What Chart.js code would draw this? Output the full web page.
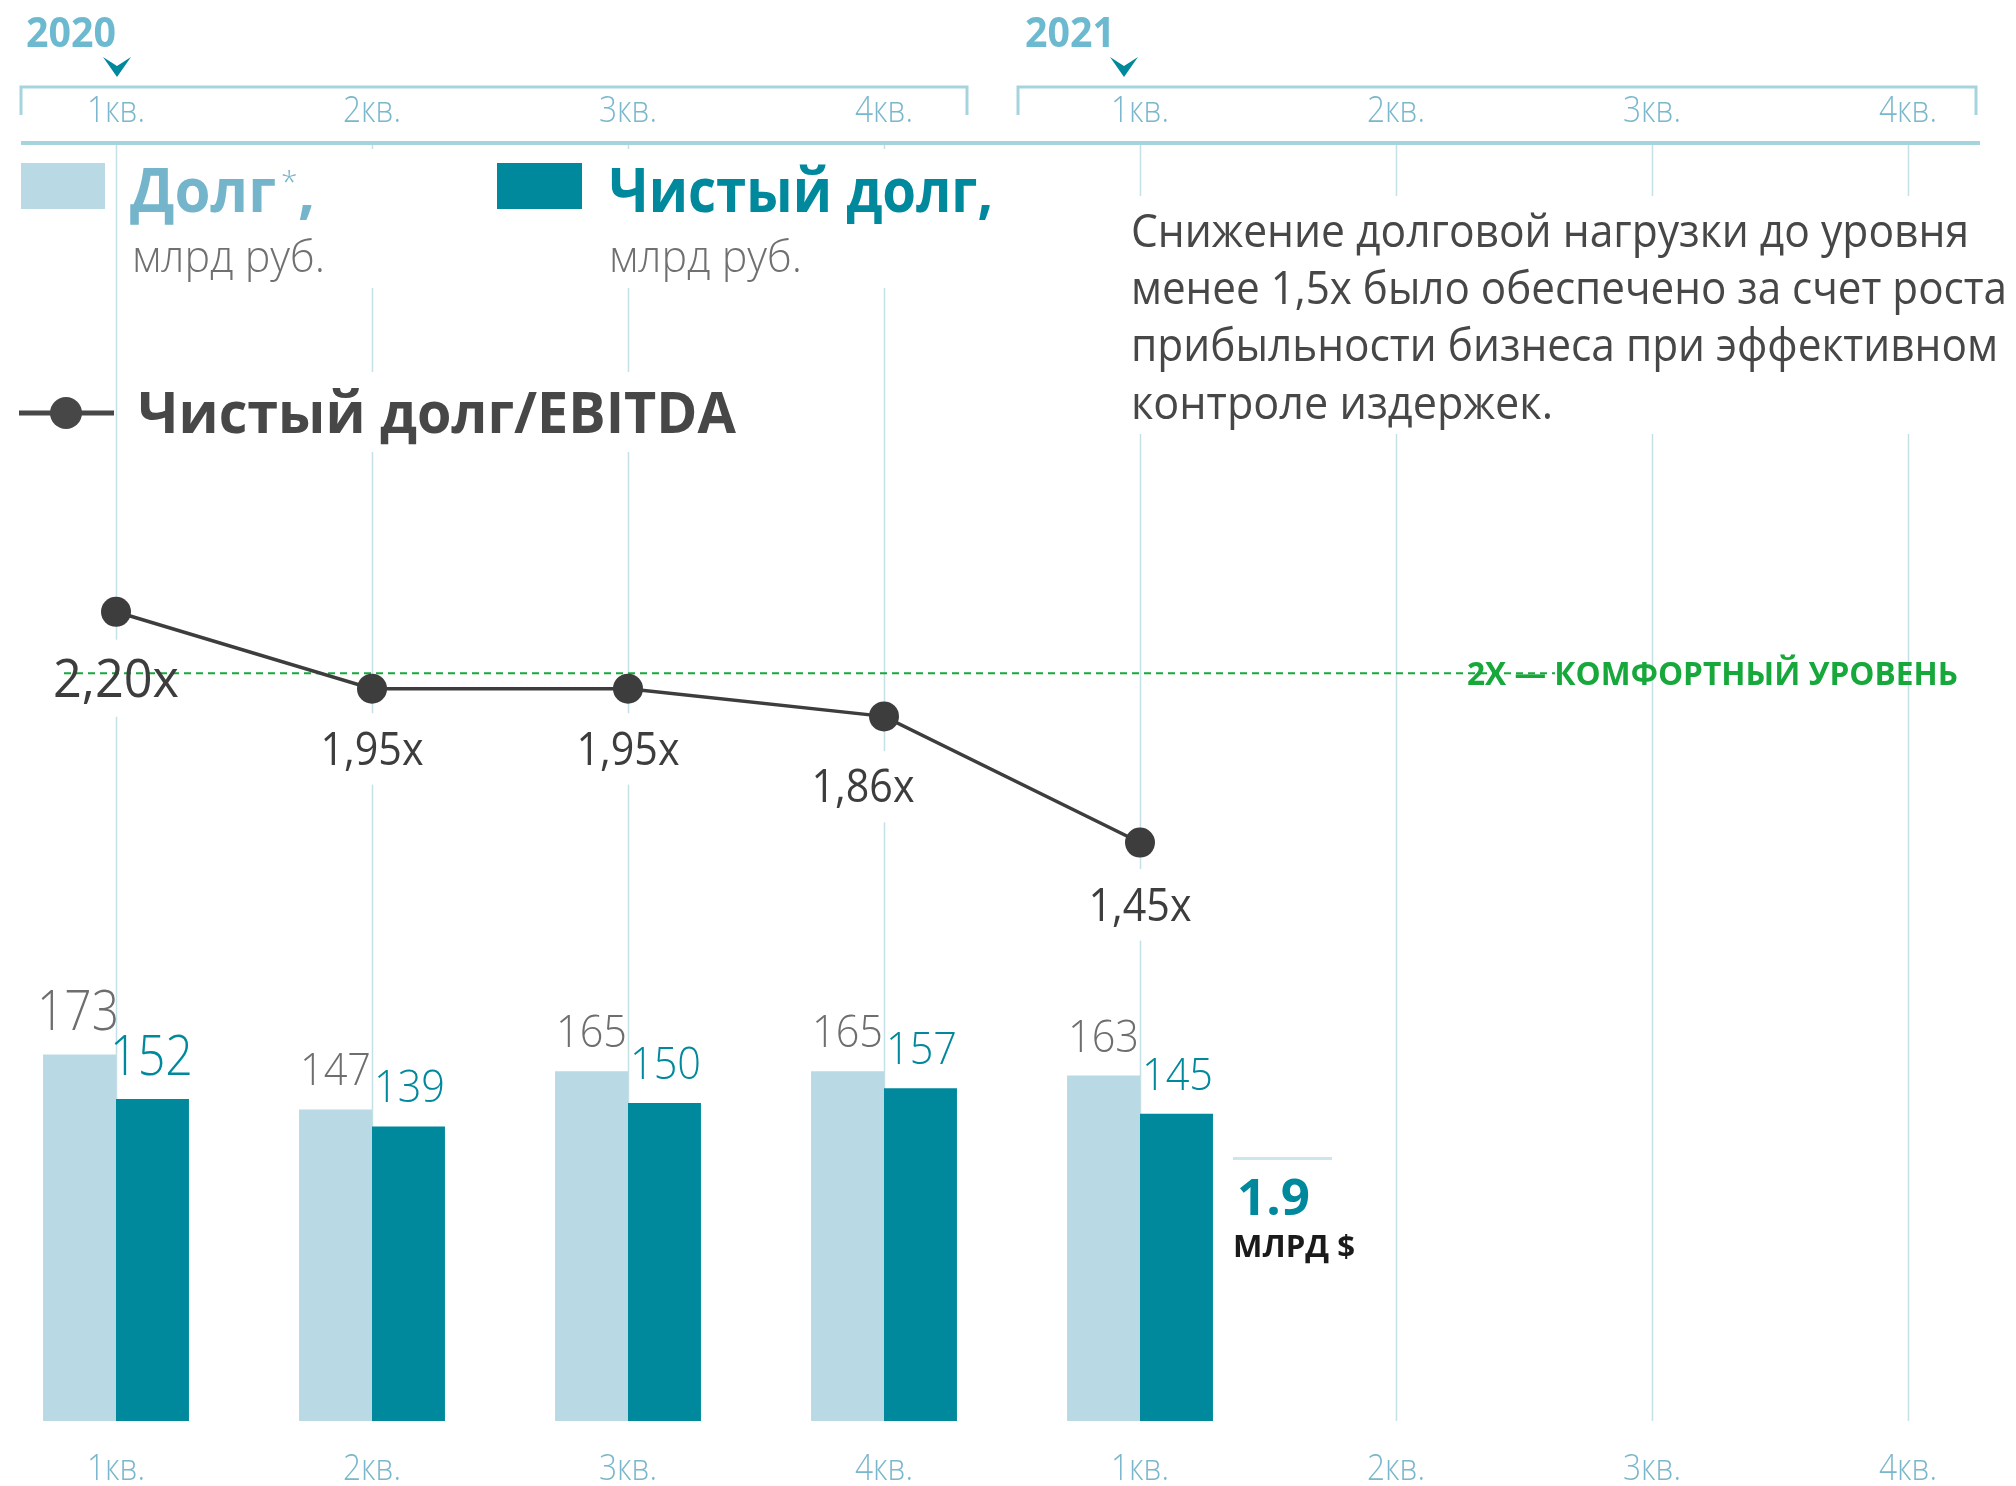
<!DOCTYPE html>
<html lang="ru">
<head>
<meta charset="utf-8">
<title>Долг и чистый долг</title>
<script src="https://cdn.jsdelivr.net/npm/chart.js@4.4.1/dist/chart.umd.min.js"></script>
<style>
    html, body { margin: 0; padding: 0; background: #fff; overflow: hidden; }
    canvas { display: block; }
</style>
</head>
<body>
<canvas id="debtChart" width="2016" height="1486"></canvas>
<script>
// data
const quarters = ['1кв.', '2кв.', '3кв.', '4кв.', '1кв.', '2кв.', '3кв.', '4кв.'];
const years = ['2020', '2021'];
const yearFirstQuarter = [0, 4];
const yearLastQuarter = [3, 7];
const debt = [173, 147, 165, 165, 163];
const netDebt = [152, 139, 150, 157, 145];
const netDebtEbitda = [2.20, 1.95, 1.95, 1.86, 1.45];
const comfortLevel = 2;
const usdNetDebt = 1.9;

const descriptionLines = [
    'Снижение долговой нагрузки до уровня',
    'менее 1,5х было обеспечено за счет роста',
    'прибыльности бизнеса при эффективном',
    'контроле издержек.'
];

// styles
const FONT = "'Open Sans', 'Noto Sans', sans-serif";
const debtColor = '#b9dae4';
const netColor = '#00889d';
const lineColor = '#3d3d3d';
const gridColor = '#c6e0e8';
const quarterColor = '#7ab7cc';
const yearColor = '#6cb9d0';
const greenColor = '#16a83b';

// per-label nudges for the ratio labels (x offset, baseline offset below point)
const ratioDx = [0, 0, 0, -21, 0];
const ratioDy = [85, 76, 76, 86, 78];
// bracket / year decoration offsets per year group
const yearStyle = [
    { dl: -95, dr: 83, tx: -90, ax: 1 },
    { dl: -122, dr: 68, tx: -115, ax: -16 }
];

function drawText(ctx, s, x, y, size, weight, color, align, width) {
    ctx.save();
    ctx.font = weight + ' ' + size + 'px ' + FONT;
    let natural = ctx.measureText(s).width;
    let sx = width ? width / natural : 1;
    let w = natural * sx;
    let left = x;
    if (align === 'center') left = x - w / 2;
    else if (align === 'right') left = x - w;
    ctx.translate(left, y);
    ctx.scale(sx, 1);
    ctx.fillStyle = color;
    ctx.textAlign = 'left';
    ctx.textBaseline = 'alphabetic';
    ctx.fillText(s, 0, 0);
    ctx.restore();
    return w;
}

function ratioText(v) {
    return v.toFixed(2).replace('.', ',') + 'x';
}

const decorations = {
    id: 'decorations',
    beforeDatasetsDraw(chart) {
        const ctx = chart.ctx;
        const area = chart.chartArea;
        const xScale = chart.scales.x;

        // vertical quarter lines
        ctx.save();
        ctx.strokeStyle = gridColor;
        ctx.lineWidth = 1.5;
        quarters.forEach(function (q, i) {
            let px = Math.round(xScale.getPixelForValue(i)) + 0.5;
            ctx.beginPath();
            ctx.moveTo(px, area.top);
            ctx.lineTo(px, area.bottom);
            ctx.stroke();
        });

        // white backgrounds behind text blocks
        ctx.fillStyle = '#fff';
        ctx.fillRect(124, 149, 886, 139);
        ctx.fillRect(124, 372, 621, 80);
        ctx.fillRect(1125, 196, 891, 238);

        let lineMeta = chart.getDatasetMeta(2);
        netDebtEbitda.forEach(function (v, i) {
            let p = lineMeta.data[i];
            let size = i === 0 ? 52 : 44;
            let cap = size * 0.714;
            let base = p.y + ratioDy[i];
            ctx.fillRect(p.x + ratioDx[i] - 62, base - cap - 20, 124, cap + 40);
        });

        // comfort level dashed line
        let yc = chart.scales.yR.getPixelForValue(comfortLevel);
        ctx.setLineDash([7, 5]);
        ctx.strokeStyle = greenColor;
        ctx.lineWidth = 2;
        ctx.beginPath();
        ctx.moveTo(64, yc);
        ctx.lineTo(1555, yc);
        ctx.stroke();
        ctx.restore();
    },
    afterDatasetsDraw(chart) {
        const ctx = chart.ctx;
        const area = chart.chartArea;
        const xScale = chart.scales.x;

        // thick line under the top quarter row
        ctx.save();
        ctx.fillStyle = '#a6d4de';
        ctx.fillRect(21, area.top, 1959, 4);

        // year brackets, arrows, year labels
        years.forEach(function (year, k) {
            let st = yearStyle[k];
            let x0 = xScale.getPixelForValue(yearFirstQuarter[k]);
            let x1 = xScale.getPixelForValue(yearLastQuarter[k]);
            let left = x0 + st.dl;
            let right = x1 + st.dr;
            ctx.strokeStyle = '#a6d4de';
            ctx.lineWidth = 3;
            ctx.beginPath();
            ctx.moveTo(left, 115);
            ctx.lineTo(left, 87);
            ctx.lineTo(right, 87);
            ctx.lineTo(right, 115);
            ctx.stroke();

            drawText(ctx, year, x0 + st.tx, 47, 42, 'bold', yearColor, 'left', 90);

            let ax = x0 + st.ax;
            ctx.fillStyle = netColor;
            ctx.beginPath();
            ctx.moveTo(ax - 14, 57);
            ctx.lineTo(ax, 66);
            ctx.lineTo(ax + 14, 57);
            ctx.lineTo(ax, 77);
            ctx.closePath();
            ctx.fill();
        });

        // quarter labels, top and bottom
        quarters.forEach(function (q, i) {
            let px = xScale.getPixelForValue(i);
            drawText(ctx, q, px, 122, 36, '300', quarterColor, 'center', 58);
            drawText(ctx, q, px, 1480, 36, '300', quarterColor, 'center', 58);
        });

        // legend
        ctx.fillStyle = debtColor;
        ctx.fillRect(21, 163, 84, 46);
        ctx.fillStyle = netColor;
        ctx.fillRect(497, 163, 85, 46);

        let w = drawText(ctx, 'Долг', 130, 212, 60, 'bold', '#75b5cb', 'left', 146);
        drawText(ctx, '*', 130 + w + 5, 192, 30, '300', '#75b5cb', 'left');
        drawText(ctx, ',', 130 + w + 22, 212, 60, 'bold', '#75b5cb', 'left');
        drawText(ctx, 'млрд руб.', 132, 272, 44, '300', '#707070', 'left', 193);
        drawText(ctx, 'Чистый долг,', 609, 212, 60, 'bold', netColor, 'left', 384);
        drawText(ctx, 'млрд руб.', 609, 272, 44, '300', '#707070', 'left', 193);

        ctx.strokeStyle = '#474747';
        ctx.lineWidth = 5;
        ctx.beginPath();
        ctx.moveTo(19, 413);
        ctx.lineTo(114, 413);
        ctx.stroke();
        ctx.fillStyle = '#474747';
        ctx.beginPath();
        ctx.arc(66, 413, 16, 0, Math.PI * 2);
        ctx.fill();
        drawText(ctx, 'Чистый долг/EBITDA', 138, 433, 58, 'bold', '#474747', 'left', 598);

        // description
        const descWidths = [838, 876, 867, 422];
        descriptionLines.forEach(function (line, i) {
            drawText(ctx, line, 1131, 247 + i * 57.2, 46, 'normal', '#474747', 'left', descWidths[i]);
        });

        // comfort level caption
        let yc = chart.scales.yR.getPixelForValue(comfortLevel);
        drawText(ctx, comfortLevel + 'X — КОМФОРТНЫЙ УРОВЕНЬ', 1467, yc + 12, 33, 'bold', greenColor, 'left', 491);

        // ratio labels
        let lineMeta = chart.getDatasetMeta(2);
        netDebtEbitda.forEach(function (v, i) {
            let p = lineMeta.data[i];
            let size = i === 0 ? 53 : 45;
            drawText(ctx, ratioText(v), p.x + ratioDx[i], p.y + ratioDy[i], size, 'normal', lineColor, 'center', i === 0 ? 126 : 103);
        });

        // bar value labels
        let debtMeta = chart.getDatasetMeta(0);
        let netMeta = chart.getDatasetMeta(1);
        debt.forEach(function (v, i) {
            let bar = debtMeta.data[i];
            let size = i === 0 ? 55 : 44;
            drawText(ctx, String(v), bar.x + bar.width / 2 + (i === 0 ? 3 : -1), bar.y - 24, size, '300', '#6e6e6e', 'right', i === 0 ? 82 : 71);
        });
        netDebt.forEach(function (v, i) {
            let bar = netMeta.data[i];
            let size = i === 0 ? 55 : 44;
            drawText(ctx, String(v), bar.x - bar.width / 2 + (i === 0 ? -6 : 2), bar.y - 24, size, '300', netColor, 'left', i === 0 ? 83 : 71);
        });

        // net debt in USD
        ctx.fillStyle = '#cde6ec';
        ctx.fillRect(1233, 1157, 99, 3);
        drawText(ctx, String(usdNetDebt), 1237, 1215, 50, 'bold', netColor, 'left', 73);
        drawText(ctx, 'МЛРД $', 1233, 1257, 31, 'bold', '#1a1a1a', 'left', 122);
        ctx.restore();
    }
};

let debtCanvas = document.getElementById('debtChart');
let debtChart = new Chart(debtCanvas, {
    type: 'bar',
    data: {
        labels: quarters,
        datasets: [{
            label: 'Долг',
            data: debt,
            backgroundColor: debtColor,
            borderWidth: 0,
            categoryPercentage: 0.57,
            barPercentage: 1,
            yAxisID: 'y',
            clip: false
        }, {
            label: 'Чистый долг',
            data: netDebt,
            backgroundColor: netColor,
            borderWidth: 0,
            categoryPercentage: 0.57,
            barPercentage: 1,
            yAxisID: 'y',
            clip: false
        }, {
            type: 'line',
            label: 'Чистый долг/EBITDA',
            data: netDebtEbitda,
            yAxisID: 'yR',
            borderColor: lineColor,
            borderWidth: 3.5,
            backgroundColor: lineColor,
            pointRadius: 15,
            pointBackgroundColor: lineColor,
            pointBorderWidth: 0,
            tension: 0,
            clip: false
        }]
    },
    options: {
        responsive: false,
        animation: false,
        devicePixelRatio: 1,
        layout: {
            padding: { left: 116, right: 108, top: 141, bottom: 65 }
        },
        plugins: {
            legend: { display: false },
            tooltip: { enabled: false }
        },
        scales: {
            x: { type: 'category', display: false, offset: false },
            y: { display: false, min: 0, max: 604 },
            yR: { display: false, position: 'right', min: -0.43, max: 3.73 }
        }
    },
    plugins: [decorations]
});
</script>
</body>
</html>
